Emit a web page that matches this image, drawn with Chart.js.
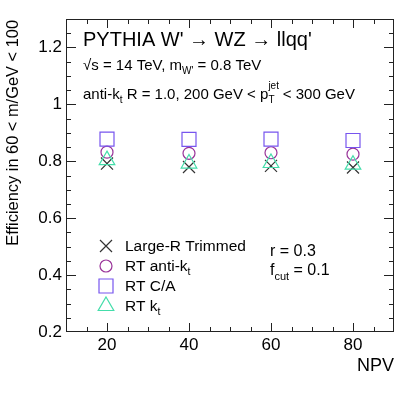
<!DOCTYPE html>
<html>
<head>
<meta charset="utf-8">
<script src="https://cdn.jsdelivr.net/npm/chart.js@4/dist/chart.umd.min.js"></script>
<style>
  html, body { margin: 0; padding: 0; background: #fff; }
  #wrap { width: 415px; height: 395px; }
</style>
</head>
<body>
<div id="wrap"><canvas id="effChart" width="415" height="395"></canvas></div>
<script>
// data
const npv = [20, 40, 60, 80];
const largeRTrimmed = [0.792, 0.780, 0.784, 0.778];
const rtAntiKt = [0.832, 0.828, 0.830, 0.825];
const rtCA = [0.878, 0.877, 0.878, 0.873];
const rtKt = [0.804, 0.792, 0.794, 0.788];

const xTicks = [20, 40, 60, 80];
const yTicks = [0.2, 0.4, 0.6, 0.8, 1, 1.2];

// legend text: [main, subscript]
const seriesNames = [['Large-R Trimmed', ''], ['RT anti-k', 't'], ['RT C/A', ''], ['RT k', 't']];

const FONT = '"Liberation Sans", Arial, Helvetica, sans-serif';

function toPoints(ys) {
    return npv.map((x, i) => ({ x: x, y: ys[i] }));
}

const seriesStyles = [
    { color: '#333333', pointStyle: 'crossRot', radius: 8.5 },
    { color: '#993399', pointStyle: 'circle', radius: 6 },
    { color: '#7755ee', pointStyle: 'rect', radius: 9.9 },
    { color: '#44ddaa', pointStyle: 'triangle', radius: 9 }
];
const seriesValues = [largeRTrimmed, rtAntiKt, rtCA, rtKt];

// draw pieces of text one after another, for sub/superscripts
function richText(ctx, x, y, parts) {
    let cx = x;
    parts.forEach(p => {
        ctx.font = p.s + 'px ' + FONT;
        ctx.fillText(p.t, cx, y + (p.dy || 0));
        if (p.adv !== false) cx += ctx.measureText(p.t).width;
    });
}

const frameAndText = {
    id: 'frameAndText',
    afterDraw(chart) {
        const ctx = chart.ctx;
        const a = chart.chartArea;
        const xs = chart.scales.x;
        const ys = chart.scales.y;
        ctx.save();

        // frame
        ctx.strokeStyle = '#222';
        ctx.lineWidth = 1;
        ctx.strokeRect(a.left + 0.5, a.top + 0.5, a.right - a.left - 1, a.bottom - a.top - 1);

        // ticks on all sides, pointing inward
        ctx.beginPath();
        for (let v = xs.min + 5; v < xs.max; v += 5) {
            const px = Math.round(xs.getPixelForValue(v)) + 0.5;
            const len = xTicks.includes(v) ? 9 : 5;
            ctx.moveTo(px, a.bottom); ctx.lineTo(px, a.bottom - len);
            ctx.moveTo(px, a.top); ctx.lineTo(px, a.top + len);
        }
        for (let k = 1; k * 0.05 + ys.min < ys.max - 1e-6; k++) {
            const v = ys.min + k * 0.05;
            const py = Math.round(ys.getPixelForValue(v)) + 0.5;
            const major = yTicks.some(t => Math.abs(t - v) < 1e-6);
            const len = major ? 10 : 5;
            ctx.moveTo(a.left, py); ctx.lineTo(a.left + len, py);
            ctx.moveTo(a.right, py); ctx.lineTo(a.right - len, py);
        }
        ctx.stroke();

        ctx.fillStyle = '#000';
        ctx.textAlign = 'left';
        ctx.textBaseline = 'alphabetic';

        // header text
        richText(ctx, 83, 46, [{ t: "PYTHIA W' \u2192 WZ \u2192 llqq'", s: 20 }]);
        richText(ctx, 83, 70, [
            { t: '\u221As = 14 TeV, m', s: 15 },
            { t: "W'", s: 10, dy: 4 },
            { t: ' = 0.8 TeV', s: 15 }
        ]);
        richText(ctx, 83, 99, [
            { t: 'anti-k', s: 15 },
            { t: 't', s: 10, dy: 4 },
            { t: ' R = 1.0, 200 GeV < p', s: 15 },
            { t: 'jet', s: 10, dy: -10, adv: false },
            { t: 'T', s: 10, dy: 4 },
            { t: '  < 300 GeV', s: 15 }
        ]);

        // legend
        const legendY = [246, 266, 286, 306];
        seriesStyles.forEach((st, i) => {
            ctx.strokeStyle = st.color;
            ctx.fillStyle = 'rgba(0,0,0,0)';
            ctx.lineWidth = 1.2;
            Chart.helpers.drawPoint(ctx, {
                pointStyle: st.pointStyle, radius: st.radius, rotation: 0, borderWidth: 1.2
            }, 106, legendY[i]);
            ctx.fillStyle = '#000';
            const parts = [{ t: seriesNames[i][0], s: 15.5 }];
            if (seriesNames[i][1]) parts.push({ t: seriesNames[i][1], s: 10.5, dy: 4 });
            richText(ctx, 125, legendY[i] + 5, parts);
        });

        richText(ctx, 270, 256, [{ t: 'r = 0.3', s: 16 }]);
        richText(ctx, 270, 275, [
            { t: 'f', s: 16 },
            { t: 'cut', s: 11, dy: 5 },
            { t: ' = 0.1', s: 16 }
        ]);

        // axis titles
        ctx.font = '18px ' + FONT;
        ctx.textAlign = 'right';
        ctx.fillText('NPV', a.right, 371);

        ctx.translate(17.5, 20);
        ctx.rotate(-Math.PI / 2);
        ctx.font = '16.4px ' + FONT;
        ctx.textAlign = 'right';
        ctx.fillText('Efficiency in 60 < m/GeV < 100', 0, 0);

        ctx.restore();
    }
};

const ctx = document.getElementById('effChart').getContext('2d');

new Chart(ctx, {
    type: 'scatter',
    data: {
        datasets: seriesValues.map((vals, i) => ({
            label: seriesNames[i].join(''),
            data: toPoints(vals),
            pointStyle: seriesStyles[i].pointStyle,
            pointRadius: seriesStyles[i].radius,
            pointBorderColor: seriesStyles[i].color,
            pointBackgroundColor: 'rgba(0,0,0,0)',
            pointBorderWidth: 1.2,
            // later series drawn on top
            order: seriesValues.length - i
        }))
    },
    options: {
        responsive: false,
        animation: false,
        devicePixelRatio: 1,
        layout: { padding: { top: 19, right: 21, left: 0, bottom: 0 } },
        scales: {
            x: {
                type: 'linear',
                min: 10,
                max: 90,
                afterFit: s => { s.height = 63; },
                afterBuildTicks: s => { s.ticks = xTicks.map(v => ({ value: v })); },
                grid: { display: false, drawTicks: false },
                border: { display: false },
                ticks: {
                    padding: 3,
                    color: '#000',
                    font: { family: FONT, size: 17 },
                    maxRotation: 0,
                    callback: v => String(v)
                }
            },
            y: {
                type: 'linear',
                min: 0.2,
                max: 1.3,
                afterFit: s => { s.width = 66; },
                afterBuildTicks: s => { s.ticks = yTicks.map(v => ({ value: v })); },
                grid: { display: false, drawTicks: false },
                border: { display: false },
                ticks: {
                    padding: 4,
                    color: '#000',
                    font: { family: FONT, size: 17 },
                    callback: v => String(Math.round(v * 10) / 10)
                }
            }
        },
        plugins: {
            legend: { display: false },
            tooltip: { enabled: false }
        }
    },
    plugins: [frameAndText]
});
</script>
</body>
</html>
